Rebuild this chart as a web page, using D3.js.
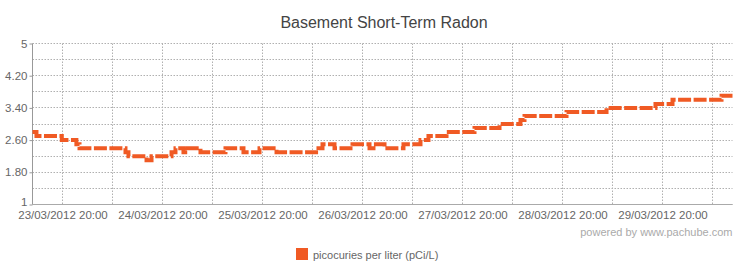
<!DOCTYPE html>
<html>
<head>
<meta charset="utf-8">
<script src="https://cdn.jsdelivr.net/npm/d3@7"></script>
<style>
  body { margin: 0; background: #fff; }
  svg { display: block; font-family: "Liberation Sans", Arial, Helvetica, sans-serif; }
</style>
</head>
<body>
<svg id="chart" width="751" height="272"></svg>
<script>
// ---- data ----
const title = "Basement Short-Term Radon";
const seriesName = "picocuries per liter (pCi/L)";
const credit = "powered by www.pachube.com";
const domainStart = "2012-03-23 12:48";
const domainEnd = "2012-03-30 12:48";
const stepTimes = [
  "2012-03-23 12:48", "2012-03-23 13:45", "2012-03-23 19:50", "2012-03-23 23:20",
  "2012-03-24 00:05", "2012-03-24 11:07", "2012-03-24 11:50", "2012-03-24 16:10",
  "2012-03-24 17:22", "2012-03-24 22:10", "2012-03-24 23:07", "2012-03-25 01:02",
  "2012-03-25 02:00", "2012-03-25 05:07", "2012-03-25 11:07", "2012-03-25 15:26",
  "2012-03-25 19:17", "2012-03-25 23:22", "2012-03-26 09:26", "2012-03-26 10:24",
  "2012-03-26 13:17", "2012-03-26 17:36", "2012-03-26 21:41", "2012-03-26 22:38",
  "2012-03-27 01:17", "2012-03-27 05:50", "2012-03-27 09:55", "2012-03-27 11:50",
  "2012-03-27 16:10", "2012-03-27 22:53", "2012-03-28 04:53", "2012-03-28 09:55",
  "2012-03-28 10:53", "2012-03-28 20:58", "2012-03-29 06:34", "2012-03-29 18:19",
  "2012-03-29 22:24", "2012-03-30 10:10", "2012-03-30 12:48"
];
const stepValues = [
  2.8, 2.7, 2.6, 2.5,
  2.4, 2.3, 2.2, 2.1,
  2.2, 2.3, 2.4, 2.3,
  2.4, 2.3, 2.4, 2.3,
  2.4, 2.3, 2.4, 2.5,
  2.4, 2.5, 2.4, 2.5,
  2.4, 2.5, 2.6, 2.7,
  2.8, 2.9, 3.0, 3.1,
  3.2, 3.3, 3.4, 3.5,
  3.6, 3.7, 3.7
];
const yGridValues = [1, 1.4, 1.8, 2.2, 2.6, 3, 3.4, 3.8, 4.2, 4.6, 5];
const yTickValues = [1, 1.8, 2.6, 3.4, 4.2, 5];
const yTickLabels = ["1", "1.80", "2.60", "3.40", "4.20", "5"];
const xTickLabels = [
  "23/03/2012 20:00", "24/03/2012 20:00", "25/03/2012 20:00", "26/03/2012 20:00",
  "27/03/2012 20:00", "28/03/2012 20:00", "29/03/2012 20:00"
];

// ---- layout ----
const svg = d3.select("#chart");
const pLeft = 32.5, pRight = 732.5, pTop = 43.5, pBottom = 204.5;
const parse = d3.timeParse("%Y-%m-%d %H:%M");
const labelParse = d3.timeParse("%d/%m/%Y %H:%M");

const x = d3.scaleTime().domain([parse(domainStart), parse(domainEnd)]).range([pLeft, pRight]);
const y = d3.scaleLinear().domain([1, 5]).range([pBottom, pTop]);

const data = stepTimes.map((t, i) => ({ t: parse(t), v: stepValues[i] }));

// title
svg.append("text").attr("x", 384).attr("y", 28)
  .attr("text-anchor", "middle").attr("font-size", 16).attr("fill", "#444")
  .text(title);

// horizontal grid
const gridColor = "#b0b0b0";
svg.append("g").selectAll("line").data(yGridValues).join("line")
  .attr("x1", pLeft).attr("x2", pRight)
  .attr("y1", d => Math.round(y(d) - 0.5) + 0.5).attr("y2", d => Math.round(y(d) - 0.5) + 0.5)
  .attr("stroke", gridColor).attr("stroke-dasharray", "1.5,1.5");

// vertical grid every 12h
const gridTimes = d3.timeHour.range(x.domain()[0], x.domain()[1])
  .filter(d => d.getMinutes() === 0 && (d.getHours() === 8 || d.getHours() === 20));
svg.append("g").selectAll("line").data(gridTimes).join("line")
  .attr("x1", d => Math.round(x(d) - 0.5) + 0.5).attr("x2", d => Math.round(x(d) - 0.5) + 0.5)
  .attr("y1", pTop).attr("y2", pBottom)
  .attr("stroke", gridColor).attr("stroke-dasharray", "1.5,1.5");

// axes lines
svg.append("line").attr("x1", pLeft).attr("x2", pLeft).attr("y1", pTop).attr("y2", pBottom)
  .attr("stroke", "#999");
svg.append("line").attr("x1", pLeft).attr("x2", pRight).attr("y1", pBottom).attr("y2", pBottom)
  .attr("stroke", "#aaa");

// y axis
const yAxis = d3.axisLeft(y).tickValues(yTickValues)
  .tickFormat((d, i) => yTickLabels[i]).tickSize(3).tickPadding(2);
const gy = svg.append("g").attr("transform", `translate(${pLeft},0)`).call(yAxis);
gy.select(".domain").remove();
gy.selectAll(".tick line").attr("stroke", "#999");
gy.selectAll(".tick text").attr("fill", "#666").attr("font-size", 11.5)
  .attr("font-family", "Liberation Sans, Arial, sans-serif");
gy.selectAll(".tick text").filter((d, i) => i === 0).attr("dy", "0.1em");

// x axis
const xAxis = d3.axisBottom(x).tickValues(xTickLabels.map(s => labelParse(s)))
  .tickFormat((d, i) => xTickLabels[i]).tickSize(0).tickPadding(6);
const gx = svg.append("g").attr("transform", `translate(0,${pBottom})`).call(xAxis);
gx.select(".domain").remove();
gx.selectAll(".tick text").attr("fill", "#666").attr("font-size", 11.5)
  .attr("font-family", "Liberation Sans, Arial, sans-serif");

// line
const line = d3.line().x(d => x(d.t)).y(d => y(d.v)).curve(d3.curveStepAfter);
svg.append("path").datum(data).attr("d", line)
  .attr("fill", "none").attr("stroke", "#f05a24").attr("stroke-width", 4)
  .attr("stroke-dasharray", "13,2.5");

// credit
svg.append("text").attr("x", pRight).attr("y", 236).attr("text-anchor", "end")
  .attr("font-size", 11).attr("fill", "#aaa").text(credit);

// legend
svg.append("rect").attr("x", 296).attr("y", 248).attr("width", 12).attr("height", 12)
  .attr("fill", "#f05a24");
svg.append("text").attr("x", 313).attr("y", 258.5)
  .attr("font-size", 11).attr("fill", "#666").text(seriesName);
</script>
</body>
</html>
